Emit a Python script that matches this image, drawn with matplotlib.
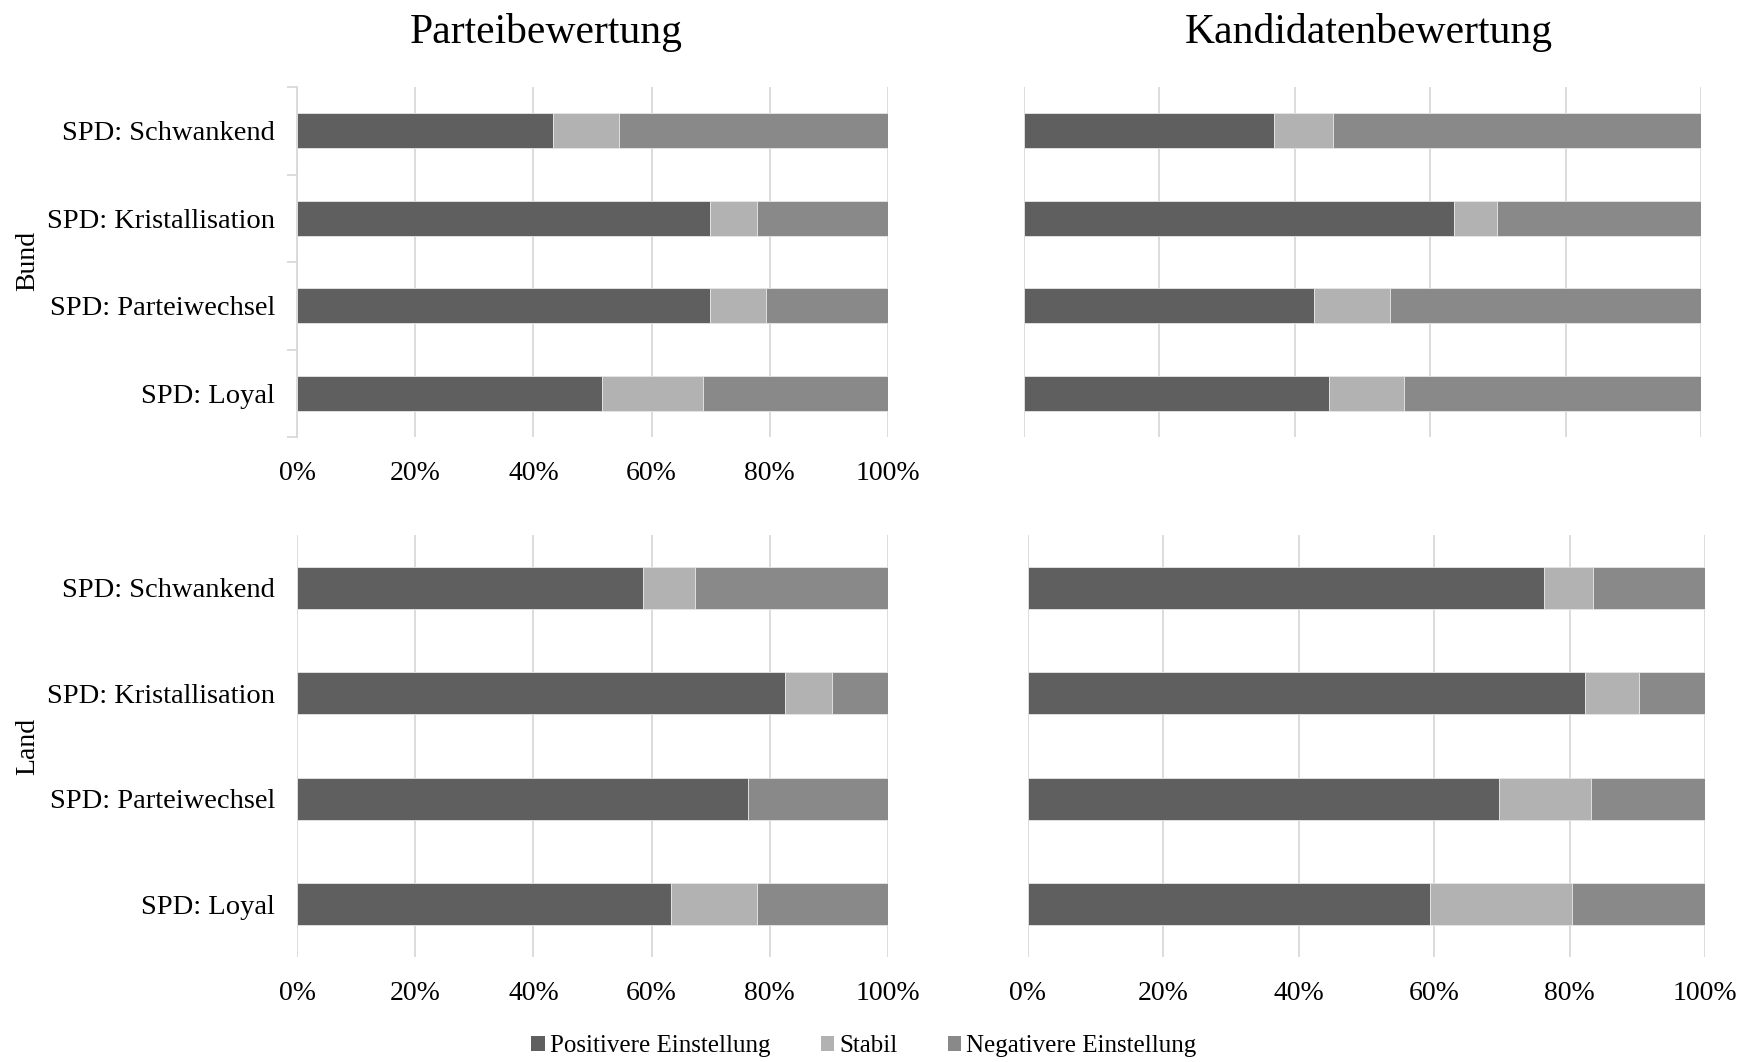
import matplotlib
matplotlib.use("Agg")
import matplotlib.pyplot as plt
from matplotlib.patches import Patch

# Kategorien (von unten nach oben)
categories = ["SPD: Loyal", "SPD: Parteiwechsel", "SPD: Kristallisation", "SPD: Schwankend"]
series_names = ["Positivere Einstellung", "Stabil", "Negativere Einstellung"]
colors = ["#5f5f5f", "#b2b2b2", "#898989"]

# Bund - Parteibewertung (%)
bund_partei_pos = [51.6, 69.8, 69.8, 43.4]
bund_partei_stab = [17.1, 9.6, 8.1, 11.0]
bund_partei_neg = [31.3, 20.6, 22.1, 45.6]

# Bund - Kandidatenbewertung (%)
bund_kand_pos = [45.0, 42.8, 63.5, 36.9]
bund_kand_stab = [11.2, 11.2, 6.4, 8.8]
bund_kand_neg = [43.8, 46.0, 30.1, 54.3]

# Land - Parteibewertung (%)
land_partei_pos = [63.3, 76.3, 82.5, 58.6]
land_partei_stab = [14.6, 0.0, 8.0, 8.8]
land_partei_neg = [22.1, 23.7, 9.5, 32.6]

# Land - Kandidatenbewertung (%)
land_kand_pos = [59.4, 69.5, 82.3, 76.2]
land_kand_stab = [21.0, 13.6, 7.9, 7.2]
land_kand_neg = [19.6, 16.9, 9.8, 16.6]

xticks = [0, 20, 40, 60, 80, 100]
xtick_labels = ["0%", "20%", "40%", "60%", "80%", "100%"]

plt.rcParams['font.family'] = ['Liberation Serif', 'DejaVu Serif']

W, H = 1740, 1062
fig = plt.figure(figsize=(W / 100, H / 100), dpi=100)


# Achse in Pixelkoordinaten anlegen
def add_ax(x0, x1, y0, y1):
    return fig.add_axes([x0 / W, 1 - y1 / H, (x1 - x0) / W, (y1 - y0) / H])


def draw_panel(ax, pos, stab, neg, show_ylabels, show_xlabels, show_spine):
    y = range(len(categories))
    left = [0] * len(categories)
    for vals, col in zip([pos, stab, neg], colors):
        ax.barh(y, vals, left=left, height=0.4, color=col, zorder=3,
                edgecolor="#e6e6e6", linewidth=0.6)
        left = [l + v for l, v in zip(left, vals)]
    ax.set_xlim(0, 100)
    ax.set_ylim(-0.5, 3.5)
    ax.set_xticks(xticks)
    ax.grid(axis="x", color="#d9d9d9", linewidth=1.3, zorder=0)
    for s in ["top", "right", "bottom", "left"]:
        ax.spines[s].set_visible(False)
    ax.tick_params(axis="x", length=0, labelsize=20, pad=17)
    if show_xlabels:
        ax.set_xticklabels(xtick_labels)
    else:
        ax.set_xticklabels([])
    if show_ylabels:
        ax.set_yticks(list(y))
        ax.set_yticklabels(categories, fontsize=20.5)
        ax.tick_params(axis="y", length=0, pad=16)
    else:
        ax.set_yticks([])
    if show_spine:
        ax.spines["left"].set_visible(True)
        ax.spines["left"].set_color("#d9d9d9")
        ax.spines["left"].set_linewidth(1.3)
        ax.set_yticks([-0.5, 0.5, 1.5, 2.5, 3.5], minor=True)
        ax.tick_params(axis="y", which="minor", length=7, color="#d9d9d9", width=1.3)


ax1 = add_ax(297, 888, 87, 437)
draw_panel(ax1, bund_partei_pos, bund_partei_stab, bund_partei_neg, True, True, True)
ax2 = add_ax(1024, 1701, 87, 437)
draw_panel(ax2, bund_kand_pos, bund_kand_stab, bund_kand_neg, False, False, False)
ax3 = add_ax(297, 888, 535, 957)
draw_panel(ax3, land_partei_pos, land_partei_stab, land_partei_neg, True, True, False)
ax4 = add_ax(1028, 1705, 535, 957)
draw_panel(ax4, land_kand_pos, land_kand_stab, land_kand_neg, False, True, False)

# Titel
fig.text(546 / W, 1 - 33 / H, "Parteibewertung", fontsize=30, ha="center", va="center")
fig.text(1369 / W, 1 - 33 / H, "Kandidatenbewertung", fontsize=30, ha="center", va="center")

# Zeilenbeschriftung
fig.text(28 / W, 1 - 261 / H, "Bund", fontsize=20, rotation=90, ha="center", va="center")
fig.text(28 / W, 1 - 746 / H, "Land", fontsize=20, rotation=90, ha="center", va="center")

# Legende
handles = [Patch(facecolor=c, edgecolor="none") for c in colors]
fig.legend(handles, series_names, loc="center", bbox_to_anchor=(864 / W, 1 - 1046 / H),
           ncol=3, frameon=False, fontsize=18, handlelength=0.55, handleheight=0.55,
           handletextpad=0.2, columnspacing=2.0)

fig.savefig("out.png", dpi=100)
